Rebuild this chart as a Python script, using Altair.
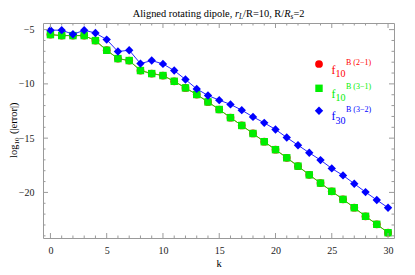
import altair as alt
import pandas as pd

# ---------------- data ----------------
k = list(range(31))
err_21 = [-5.46, -5.55, -5.55, -5.55, -6.01, -6.90, -7.67, -7.85, -8.77, -9.05, -9.23,
          -9.76, -10.37, -10.98, -11.66, -12.36, -13.11, -13.83, -14.57, -15.33, -16.06,
          -16.81, -17.58, -18.38, -19.14, -19.90, -20.64, -21.41, -22.20, -22.94, -23.71]
err_31 = [-5.46, -5.55, -5.55, -5.55, -6.01, -6.90, -7.67, -7.85, -8.77, -9.05, -9.23,
          -9.76, -10.37, -10.98, -11.66, -12.36, -13.11, -13.83, -14.57, -15.33, -16.06,
          -16.81, -17.58, -18.38, -19.14, -19.90, -20.64, -21.41, -22.20, -22.94, -23.71]
err_32 = [-5.05, -5.05, -5.43, -5.06, -5.31, -5.92, -7.02, -6.90, -8.13, -7.85, -8.16,
          -8.77, -9.60, -10.46, -11.07, -11.50, -11.89, -12.42, -13.04, -13.59, -14.20,
          -14.94, -15.65, -16.35, -17.02, -17.79, -18.43, -19.20, -19.97, -20.70, -21.41]

x_major = [0, 5, 10, 15, 20, 25, 30]
x_minor = [1, 2, 3, 4, 6, 7, 8, 9, 11, 12, 13, 14, 16, 17, 18, 19, 21, 22, 23, 24, 26, 27, 28, 29]
y_major = [-5, -10, -15, -20]
y_minor = [-6, -7, -8, -9, -11, -12, -13, -14, -16, -17, -18, -19, -21, -22, -23, -24]

series_names = ["f10 B(2-1)", "f10 B(3-1)", "f30 B(3-2)"]
series_colors = ["#ff0000", "#00ee00", "#0000ff"]
series_shapes = ["circle", "square", "diamond"]
series_sizes = [60, 55, 70]
legend_sub = ["10", "10", "30"]
legend_sup = ["B (2\u22121)", "B (3\u22121)", "B (3\u22122)"]

# ---------------- layout ----------------
W, H = 351, 215
FONT = "Liberation Serif"
FRAME = "#9a9a9a"

xs = alt.Scale(domain=[-0.66, 30.53], nice=False, zero=False)
ys = alt.Scale(domain=[-24.2, -4.39], nice=False, zero=False)
X_AX = alt.Axis(values=x_major, ticks=False, tickSize=0, domain=False, grid=False,
                labelFont=FONT, labelFontSize=10, labelColor="#222222",
                labelBaseline="alphabetic", labelPadding=15, title=None)
Y_AX = alt.Axis(values=y_major, ticks=False, tickSize=0, domain=False, grid=False,
                labelFont=FONT, labelFontSize=10, labelColor="#222222",
                labelPadding=9, title=None)

layers = []

# series lines and points
for vals, name, col, shp, sz in zip([err_21, err_31, err_32], series_names,
                                    series_colors, series_shapes, series_sizes):
    df = pd.DataFrame({"k": k, "v": vals, "s": name})
    base = alt.Chart(df).encode(
        x=alt.X("k:Q", scale=xs, axis=X_AX),
        y=alt.Y("v:Q", scale=ys, axis=Y_AX),
    )
    layers.append(base.mark_line(color=col, strokeWidth=1, opacity=0.85))
    layers.append(base.mark_point(filled=True, shape=shp, size=sz, color=col, opacity=1))

# inward frame ticks
def xticks(vals, y0, y1):
    return alt.Chart(pd.DataFrame({"t": vals})).mark_rule(color=FRAME, strokeWidth=1).encode(
        x=alt.X("t:Q", scale=xs, axis=X_AX), y=alt.value(y0), y2=alt.value(y1))

def yticks(vals, x0, x1):
    return alt.Chart(pd.DataFrame({"t": vals})).mark_rule(color=FRAME, strokeWidth=1).encode(
        y=alt.Y("t:Q", scale=ys, axis=Y_AX), x=alt.value(x0), x2=alt.value(x1))

layers += [
    xticks(x_major, H, H - 5), xticks(x_minor, H, H - 2.5),
    xticks(x_major, 0, 5), xticks(x_minor, 0, 2.5),
    yticks(y_major, 0, 5), yticks(y_minor, 0, 2.5),
    yticks(y_major, W, W - 5), yticks(y_minor, W, W - 2.5),
]

def txt(text, x, y, size, color="#000000", style="normal", angle=0):
    return alt.Chart(pd.DataFrame({"t": [text]})).mark_text(
        align="left", baseline="alphabetic", font=FONT, fontSize=size,
        fontStyle=style, color=color, angle=angle).encode(
        x=alt.value(x), y=alt.value(y), text="t:N")

# title
TS = 10.4
SS = 7.3
ty = -6.5
layers += [
    txt("Aligned rotating dipole,", 89.7, ty, TS),
    txt("r", 192.0, ty, TS, style="italic"),
    txt("L", 196.05, ty + 2.5, SS, style="italic"),
    txt("/R=10, R/", 200.1, ty, TS),
    txt("R", 241.2, ty, TS, style="italic"),
    txt("s", 247.55, ty + 2.5, SS, style="italic"),
    txt("=2", 250.4, ty, TS),
]

# axis titles
yx = -26.5
layers += [
    txt("k", 173.5, 243.5, 10.5),
    txt("log", yx, 135, 10.5, angle=270),
    txt("10", yx + 2.5, 121.6, 7, angle=270),
    txt("(|error|)", yx, 111.0, 10.5, angle=270),
]

# legend
row_y = [41, 65.3, 87.7]
for ry, col, shp, sz, sub, sup in zip(row_y, series_colors, series_shapes, series_sizes,
                                      legend_sub, legend_sup):
    layers.append(
        alt.Chart(pd.DataFrame({"a": [0]})).mark_point(
            filled=True, shape=shp, size=sz, color=col, opacity=1).encode(
            x=alt.value(276), y=alt.value(ry)))
    layers += [
        txt("f", 288.5, ry + 9.5, 12, color=col),
        txt(sub, 292.5, ry + 13, 10, color=col),
        txt(sup, 303, ry + 1, 8, color=col),
    ]

chart = alt.layer(*layers).properties(
    width=W, height=H,
    autosize=alt.AutoSizeParams(type="none"),
    padding={"left": 35, "top": 15, "right": 12, "bottom": 29},
).configure_view(stroke=FRAME, strokeWidth=1)

chart.save("out.html", embed_options={"renderer": "svg", "actions": False})
